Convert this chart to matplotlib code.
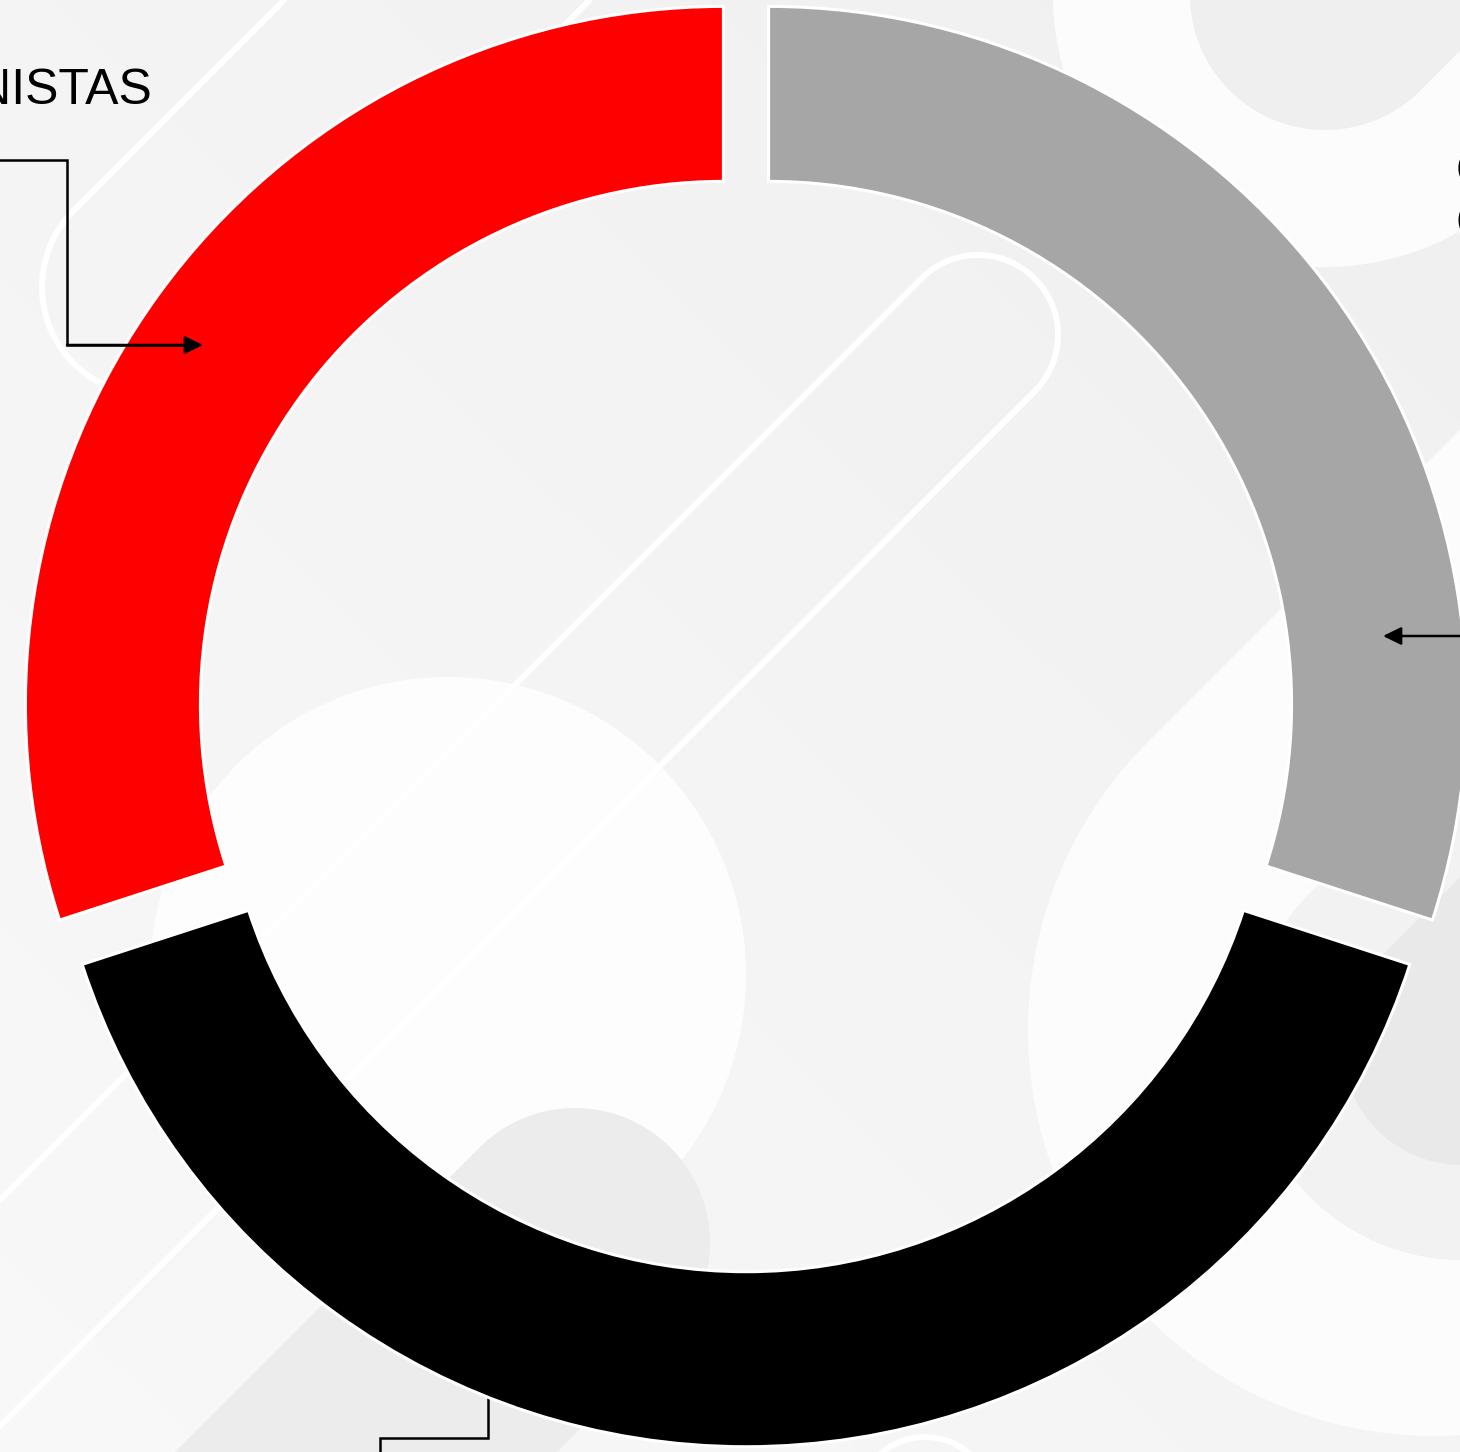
import numpy as np
import matplotlib
matplotlib.use('Agg')
import matplotlib.pyplot as plt
import matplotlib.patches as mpatches

# ---------------- data ----------------
categories = ['PROTAGONISTAS', 'ANTAGONISTAS', 'OBSERVADORES']
values = [30, 40, 30]
colors = ['#ff0000', '#000000', '#a6a6a6']
explode = [0.04, 0.04, 0.04]
left_label = 'PROTAGONISTAS'
right_label = ['OTROS', 'CASOS']

W, H = 1460, 1452
plt.rcParams['font.family'] = ['Liberation Sans', 'DejaVu Sans']

fig = plt.figure(figsize=(W / 100, H / 100), dpi=100)
ax = fig.add_axes([0, 0, 1, 1])          # background, pixel coordinates
ax.set_zorder(0)


def Y(y):
    return H - y


# ---------------- background ----------------
yy, xx = np.mgrid[0:H:4, 0:W:4]
s = ((H - yy) / H + xx / W) / 2.0
bg = 0.975 - 0.035 * s
rgb = np.dstack([bg, bg, bg])
ax.imshow(rgb, extent=[0, W, 0, H], origin='upper', zorder=0,
          interpolation='bilinear', aspect='auto')


def capsule_pts(cx, cy, r, ang_deg, length, n=120):
    a = np.radians(ang_deg)
    u = np.array([np.cos(a), np.sin(a)])
    nv = np.array([-u[1], u[0]])
    C = np.array([cx, cy])
    th = np.linspace(a + np.pi / 2, a + 3 * np.pi / 2, n)
    arc = C + r * np.c_[np.cos(th), np.sin(th)]
    start = C + r * nv + length * u
    end = C - r * nv + length * u
    return np.vstack([start, arc, end])


def capsule_fill(cx, cy_img, r, ang, length, color, z, alpha=1.0):
    p = capsule_pts(cx, Y(cy_img), r, ang, length)
    ax.add_patch(mpatches.Polygon(p, closed=True, facecolor=color,
                                  edgecolor='none', zorder=z, alpha=alpha))


def capsule_line(cx, cy_img, r, ang, length, z, lw=4.3):
    p = capsule_pts(cx, Y(cy_img), r, ang, length)
    ax.plot(p[:, 0], p[:, 1], color='white', lw=lw, zorder=z,
            solid_capstyle='butt')


capsule_fill(1325, -5, 272, 45, 700, '#fcfcfc', 1)
capsule_fill(1325, -5, 135, 45, 700, '#efefef', 1.1)
capsule_fill(1434, 1030, 406, 45, 1200, '#fcfcfc', 1)
capsule_fill(1462, 1045, 215, 45, 800, '#f2f2f2', 1.1)
capsule_fill(1462, 1045, 120, 45, 800, '#e9e9e9', 1.2)
capsule_line(150, 287, 108, 45, 900, 1.3)
capsule_line(978, 335, 80, 225, 2000, 1.3)
ax.add_patch(mpatches.Circle((448, Y(975)), 298, facecolor='white',
                             edgecolor='none', alpha=0.85, zorder=1.5))
capsule_fill(575, 1243, 135, 225, 900, '#ececec', 1.6)
ax.add_patch(mpatches.Circle((925, Y(1505)), 68, facecolor='none',
                             edgecolor='white', lw=4.3, zorder=1.6))
# connector of the bottom slice (runs under the ring)
lw = 1.8
ax.plot([488, 488, 380, 380], [Y(1385), Y(1438), Y(1438), Y(1470)],
        color='black', lw=lw, zorder=2.5, solid_joinstyle='miter')
ax.set_xlim(0, W)
ax.set_ylim(0, H)
ax.axis('off')

# ---------------- donut (unit radius axes) ----------------
R_px, cx_px, cy_px = 698, 746, 720.8
ax2 = fig.add_axes([0, 0, 1, 1])
ax2.set_zorder(1)
ax2.patch.set_alpha(0)
ax2.pie(values, colors=colors, explode=explode, startangle=90,
        counterclock=True, radius=1,
        wedgeprops=dict(width=175 / R_px, edgecolor='white', linewidth=2.2))
ax2.set_xlim((0 - cx_px) / R_px, (W - cx_px) / R_px)
ax2.set_ylim((0 - Y(cy_px)) / R_px, (H - Y(cy_px)) / R_px)
ax2.set_aspect('auto')
ax2.axis('off')

# ---------------- overlay: connectors and labels ----------------
ax3 = fig.add_axes([0, 0, 1, 1])
ax3.set_zorder(2)
ax3.patch.set_alpha(0)
ax3.set_xlim(0, W)
ax3.set_ylim(0, H)
ax3.axis('off')

ax3.plot([-10, 67, 67, 190], [Y(160), Y(160), Y(345), Y(345)], color='black',
         lw=lw, solid_joinstyle='miter')
ax3.annotate('', xy=(203, Y(345)), xytext=(67, Y(345)),
             arrowprops=dict(arrowstyle='-|>,head_length=0.55,head_width=0.27',
                             color='black', lw=lw, shrinkA=0, shrinkB=0,
                             mutation_scale=20))
ax3.annotate('', xy=(1383, Y(636)), xytext=(1475, Y(636)),
             arrowprops=dict(arrowstyle='-|>,head_length=0.55,head_width=0.27',
                             color='black', lw=lw, shrinkA=0, shrinkB=0,
                             mutation_scale=20), annotation_clip=False)

ax3.text(153, Y(104), left_label, ha='right', va='baseline', fontsize=36,
         color='black')
for i, line in enumerate(right_label):
    ax3.text(1456, Y(186 + 52 * i), line, ha='left', va='baseline',
             fontsize=36, color='black')

fig.savefig('out.png', dpi=100)
